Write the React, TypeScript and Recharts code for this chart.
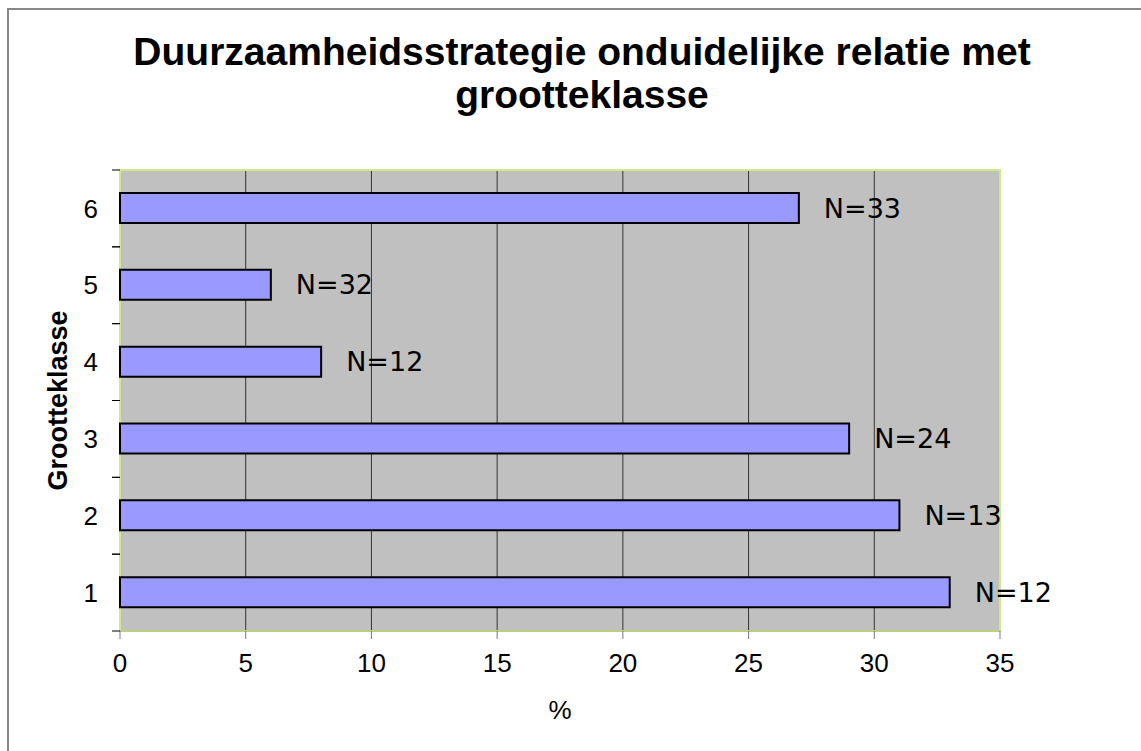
import React from 'react'
import {
  BarChart,
  Bar,
  XAxis,
  YAxis,
  CartesianGrid,
  ReferenceArea,
  LabelList,
} from 'recharts'

const klassen = ['1', '2', '3', '4', '5', '6']
const percentages = [33, 31, 29, 8, 6, 27]
const aantallen = [12, 13, 24, 12, 32, 33]
const xTicks = [0, 5, 10, 15, 20, 25, 30, 35]

const data = klassen.map((k, i) => ({
  klasse: k,
  pct: percentages[i],
  label: `N=${aantallen[i]}`,
}))

const arial = '"Liberation Sans", Arial, sans-serif'

// category tick: label in the middle, tick marks on the band edges
const KlasseTick = ({ x, y, payload }: any) => {
  const edge = x + 22
  const half = payload.offset || 0
  return (
    <g>
      <line x1={edge - 8} x2={edge} y1={y - half} y2={y - half} stroke="#000" />
      <line x1={edge - 8} x2={edge} y1={y + half} y2={y + half} stroke="#000" />
      <text
        x={x}
        y={y}
        dy="0.355em"
        textAnchor="end"
        fontFamily={arial}
        fontSize={26}
        fill="#000"
      >
        {payload.value}
      </text>
    </g>
  )
}

const YLabel = ({ viewBox }: any) => {
  const x = viewBox.x + 67
  const y = viewBox.y + viewBox.height / 2
  return (
    <text
      x={x}
      y={y}
      transform={`rotate(-90, ${x}, ${y})`}
      textAnchor="middle"
      fontFamily={arial}
      fontSize={27}
      fontWeight="bold"
      fill="#000"
    >
      Grootteklasse
    </text>
  )
}

export default function App() {
  return (
    <div style={{ position: 'relative', width: 1141, height: 751, background: '#fff' }}>
      <style>{'body{margin:0}'}</style>
      <div
        style={{
          position: 'absolute',
          left: 7,
          top: 8,
          width: 1200,
          height: 800,
          borderTop: '2px solid #888',
          borderLeft: '2px solid #888',
        }}
      />
      <div
        style={{
          position: 'absolute',
          left: 0,
          top: 30,
          width: 1164,
          textAlign: 'center',
          fontFamily: arial,
          fontWeight: 'bold',
          fontSize: 39,
          lineHeight: '43px',
          color: '#000',
        }}
      >
        Duurzaamheidsstrategie onduidelijke relatie met
        <br />
        grootteklasse
      </div>
      <div style={{ position: 'absolute', left: 0, top: 0 }}>
        <BarChart
          width={1141}
          height={751}
          data={data}
          layout="vertical"
          margin={{ top: 170, right: 141, bottom: 0, left: 0 }}
        >
          <CartesianGrid
            yAxisId="cat"
            horizontal={false}
            fill="#c0c0c0"
            fillOpacity={1}
            stroke="#333"
            strokeWidth={1}
          />
          <XAxis
            type="number"
            domain={[0, 35]}
            ticks={xTicks}
            height={120}
            tickSize={8}
            tickMargin={15}
            tickLine={{ stroke: '#777' }}
            axisLine={{ stroke: '#a8b870' }}
            tick={{ fontSize: 26, fill: '#000', fontFamily: arial }}
            label={{
              value: '%',
              position: 'insideBottom',
              offset: 32,
              fontSize: 26,
              fill: '#000',
              fontFamily: arial,
            }}
          />
          <YAxis
            yAxisId="cat"
            type="category"
            dataKey="klasse"
            reversed
            width={120}
            tickSize={0}
            tickMargin={22}
            tickLine={false}
            axisLine={false}
            tick={<KlasseTick />}
            label={<YLabel />}
          />
          <Bar
            yAxisId="cat"
            dataKey="pct"
            fill="#9999ff"
            stroke="#000"
            strokeWidth={2}
            barSize={30}
            isAnimationActive={false}
          >
            <LabelList
              dataKey="label"
              position="right"
              offset={25}
              fill="#000"
              fontSize={27}
              fontFamily='"DejaVu Sans", Verdana, sans-serif'
            />
          </Bar>
          <ReferenceArea
            yAxisId="cat"
            x1={0}
            x2={35}
            fill="none"
            stroke="#d2e68c"
            strokeWidth={2}
            ifOverflow="visible"
          />
        </BarChart>
      </div>
    </div>
  )
}
